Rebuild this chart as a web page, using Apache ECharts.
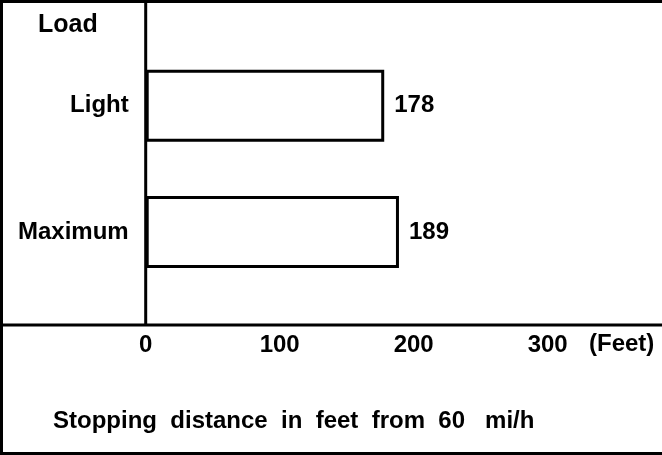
<!DOCTYPE html>
<html>
<head>
<meta charset="utf-8">
<script src="https://cdn.jsdelivr.net/npm/echarts@6/dist/echarts.min.js"></script>
<style>
  html, body { margin: 0; padding: 0; background: #fff; }
  #chart { width: 662px; height: 455px; }
</style>
</head>
<body>
<div id="chart"></div>
<script>
// Stopping distance from 60 mi/h by load
const loads = ['Light', 'Maximum'];
const stoppingFeet = [178, 189];
const distanceTicks = [0, 100, 200, 300];
const axisUnit = '(Feet)';
const axisTitle = 'Load';
const caption = 'Stopping  distance  in  feet  from  60   mi/h';

const FONT = '"Liberation Sans", Arial, sans-serif';
const INK = '#000';
const SIZE = 24;

const chart = echarts.init(document.getElementById('chart'), null, { renderer: 'canvas' });

function rule(x1, y1, x2, y2) {
  return {
    type: 'line',
    z: 100,
    shape: { x1: x1, y1: y1, x2: x2, y2: y2 },
    style: { stroke: INK, lineWidth: 3 }
  };
}

function label(text, left, top, size) {
  return {
    type: 'text',
    left: left,
    top: top,
    z: 100,
    style: { text: text, fill: INK, font: 'bold ' + (size || SIZE) + 'px ' + FONT }
  };
}

chart.setOption({
  animation: false,
  backgroundColor: '#fff',
  grid: {
    left: 145.7,
    width: 402,
    top: 42.5,
    height: 252.5,
    containLabel: false,
    outerBoundsMode: 'none'
  },
  xAxis: {
    type: 'value',
    min: distanceTicks[0],
    max: distanceTicks[distanceTicks.length - 1],
    interval: distanceTicks[1] - distanceTicks[0],
    position: 'bottom',
    offset: 30,
    axisLine: { show: false },
    axisTick: { show: false },
    splitLine: { show: false },
    axisLabel: {
      margin: 8,
      color: INK,
      fontFamily: FONT,
      fontWeight: 'bold',
      fontSize: SIZE,
      showMinLabel: true,
      showMaxLabel: true
    }
  },
  yAxis: {
    type: 'category',
    data: loads,
    inverse: true,
    axisLine: { show: false },
    axisTick: { show: false },
    splitLine: { show: false },
    axisLabel: {
      margin: 17,
      color: INK,
      fontFamily: FONT,
      fontWeight: 'bold',
      fontSize: SIZE
    }
  },
  series: [{
    type: 'bar',
    data: stoppingFeet,
    barWidth: 72,
    itemStyle: { color: '#fff', borderColor: INK, borderWidth: 3 },
    label: {
      show: true,
      position: 'right',
      distance: 10,
      color: INK,
      fontFamily: FONT,
      fontWeight: 'bold',
      fontSize: SIZE,
      formatter: '{c}'
    }
  }],
  graphic: [
    // outer frame (top, left, bottom)
    rule(0, 1.5, 662, 1.5),
    rule(1.5, 0, 1.5, 455),
    rule(0, 453.5, 662, 453.5),
    // distance axis rule and load axis rule
    rule(0, 325, 662, 325),
    rule(145.7, 0, 145.7, 325),
    label(axisTitle, 38, 13, 25),
    label(axisUnit, 589, 332),
    label(caption, 53, 409)
  ]
});
</script>
</body>
</html>
